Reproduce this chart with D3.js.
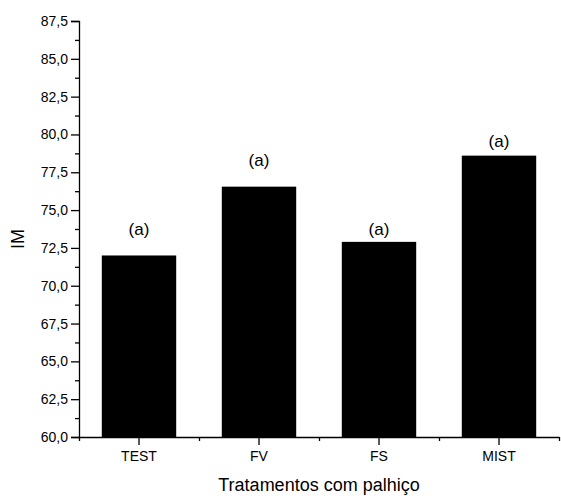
<!DOCTYPE html>
<html>
<head>
<meta charset="utf-8">
<script src="https://cdn.jsdelivr.net/npm/d3@7"></script>
<style>
  body { margin: 0; background: #fff; }
  svg text { font-family: "Liberation Sans", Arial, sans-serif; fill: #000; }
</style>
</head>
<body>
<div id="chart"></div>
<script>
// data
const categories = ["TEST", "FV", "FS", "MIST"];
const values = [72.0, 76.55, 72.9, 78.6];
const groupLabels = ["(a)", "(a)", "(a)", "(a)"];
const labelPos = [73.35, 77.9, 73.35, 79.2]; // where the letters sit, in IM units
const yTicks = [60, 62.5, 65, 67.5, 70, 72.5, 75, 77.5, 80, 82.5, 85, 87.5];

const totalW = 561, totalH = 496;
const margin = {top: 21, right: 2, bottom: 59, left: 79};
const W = totalW - margin.left - margin.right;
const H = totalH - margin.top - margin.bottom;

const svg = d3.select('#chart').append('svg')
  .attr('width', totalW)
  .attr('height', totalH)
  .append('g')
    .attr('transform', 'translate(' + margin.left + ' ' + margin.top + ')');

const x = d3.scaleBand()
  .domain(categories)
  .range([0, W]);
const y = d3.scaleLinear()
  .domain([60, 87.5])
  .range([H, 0]);

const barW = x.bandwidth() * 0.62;
const fmt = (v) => d3.format('.1f')(v).replace('.', ',');

// bars
svg.selectAll('.bar').data(categories)
  .enter().append('rect')
    .attr('class', 'bar')
    .attr('x', (d) => x(d) + (x.bandwidth() - barW) / 2)
    .attr('y', (d, i) => y(values[i]))
    .attr('width', barW)
    .attr('height', (d, i) => H - y(values[i]))
    .attr('fill', '#000');

// letters above bars
svg.selectAll('.lbl').data(categories)
  .enter().append('text')
    .attr('class', 'lbl')
    .attr('x', (d) => x(d) + x.bandwidth() / 2)
    .attr('y', (d, i) => y(labelPos[i]))
    .attr('text-anchor', 'middle')
    .attr('font-size', 17)
    .text((d, i) => groupLabels[i]);

// y axis with minor ticks
const minorY = d3.range(yTicks.length - 1).map((i) => (yTicks[i] + yTicks[i + 1]) / 2);
const yax = svg.append('g')
  .call(d3.axisLeft(y).tickValues(yTicks).tickFormat(fmt).tickSize(8).tickPadding(3));
svg.append('g')
  .call(d3.axisLeft(y).tickValues(minorY).tickFormat('').tickSize(4))
  .select('.domain').remove();
yax.selectAll('text').attr('font-size', 14);

// x axis: major ticks at centers, minor at band edges
const xax = svg.append('g')
  .attr('transform', 'translate(0 ' + H + ')')
  .call(d3.axisBottom(x).tickSize(8).tickPadding(6).tickSizeOuter(0));
xax.selectAll('text').attr('font-size', 14);
const edges = categories.map((c) => x(c)).concat([W]);
const xEdge = d3.scaleLinear().domain([0, W]).range([0, W]);
svg.append('g')
  .attr('transform', 'translate(0 ' + H + ')')
  .call(d3.axisBottom(xEdge).tickValues(edges).tickFormat('').tickSize(4))
  .select('.domain').remove();

svg.selectAll('.domain, .tick line').attr('stroke', '#000').attr('stroke-width', 1.3);

// axis titles
svg.append('text')
  .attr('x', W / 2)
  .attr('y', H + 54)
  .attr('text-anchor', 'middle')
  .attr('font-size', 18)
  .text('Tratamentos com palhiço');

svg.append('text')
  .attr('transform', 'translate(' + (-55) + ' ' + (H / 2 + 10) + ') rotate(-90)')
  .attr('text-anchor', 'middle')
  .attr('font-size', 18)
  .text('IM');
</script>
</body>
</html>
